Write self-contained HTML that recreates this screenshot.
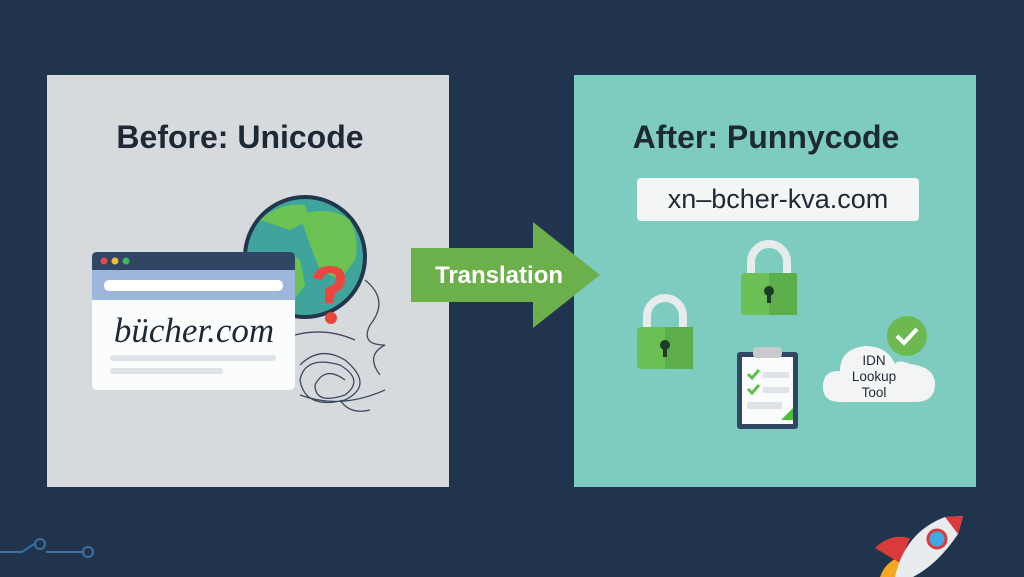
<!DOCTYPE html>
<html><head><style>
body{margin:0;width:1024px;height:577px;background:#21344d;overflow:hidden;position:relative;font-family:"Liberation Sans",sans-serif}
.p{position:absolute}
</style></head><body>
<div class="p" style="left:47px;top:75px;width:402px;height:412px;background:#d7dadc"></div>
<div class="p" style="left:574px;top:75px;width:402px;height:412px;background:#7ecbbf"></div>
<div class="p" style="left:39px;top:119px;width:402px;text-align:center;font-size:32px;font-weight:bold;color:#1d2a36">Before: Unicode</div>
<div class="p" style="left:574px;top:119px;width:384px;text-align:center;font-size:32px;font-weight:bold;color:#1d2a36">After: Punnycode</div>
<div class="p" style="left:637px;top:178px;width:282px;height:43px;background:#f4f6f5;border-radius:4px;text-align:center;line-height:43px;font-size:27px;color:#1d2a36">xn–bcher-kva.com</div>
<svg class="p" style="left:0;top:0" width="1024" height="577">
<circle cx="305" cy="257" r="60" fill="#3fa59c" stroke="#22364d" stroke-width="4"/>
<path d="M260 220 q20-18 45-15 l5 15 -20 10 -15 -5z M300 215 q30-10 50 5 q10 20 5 40 l-15 20 -20-10 -10-25z M270 255 q15-5 30 5 l5 25 -15 20 -15-15z" fill="#6cc253"/>
<path d="M313 278 q3-12 17-12 q15 0 15 13 q0 10-10 14 l-2 10 h-8 l0-15 q12-3 11-10 q0-5-6-5 q-6 0-8 7z" fill="#e8463f"/>
<circle cx="331" cy="318" r="6" fill="#e8463f"/>
<g fill="none" stroke="#3b4a60" stroke-width="1.3">
<path d="M365 280 q25 20 5 45 q-10 20 15 20 q-20 10 -5 30 M295 335 q30-8 60 5 M300 365 q20-20 45-5 q30 25 0 40 q-40 10-45-20 q5-25 40-15 q25 15 5 30 q-30 10-30-10 q10-20 30-5 M300 395 q40 15 85 -5 M340 400 q10 15 30 10"/>
</g>
<rect x="92" y="252" width="203" height="138" rx="5" fill="#fbfcfc"/>
<path d="M92 270 v-13 q0-5 5-5 h193 q5 0 5 5 v13z" fill="#2f4764"/>
<rect x="92" y="270" width="203" height="30" fill="#9eb5dc"/>
<rect x="104" y="280" width="179" height="11" rx="5" fill="#fff"/>
<circle cx="104" cy="261" r="3.5" fill="#e5484d"/><circle cx="115" cy="261" r="3.5" fill="#f0c030"/><circle cx="126" cy="261" r="3.5" fill="#3fb55a"/>
<rect x="110" y="355" width="166" height="6" rx="3" fill="#dfe2e6"/>
<rect x="110" y="368" width="113" height="6" rx="3" fill="#dfe2e6"/>
<text x="194" y="342" text-anchor="middle" font-family="Liberation Serif,serif" font-style="italic" font-size="35" fill="#1d2a36">bücher.com</text>
<path d="M411 248 H533 V222 L600 275 L533 328 V302 H411z" fill="#6cb04c"/>
<text x="499" y="283" text-anchor="middle" font-size="24" font-weight="bold" fill="#fff">Translation</text>
<g id="l1"><path d="M647 328 v-12 a18 18 0 0 1 36 0 v12" fill="none" stroke="#e6eceb" stroke-width="8"/>
<rect x="637" y="327" width="56" height="42" rx="4" fill="#6cbf55"/><rect x="665" y="327" width="28" height="42" fill="#5dae4a"/>
<circle cx="665" cy="345" r="5" fill="#1e3b2a"/><rect x="663" y="345" width="4" height="12" fill="#1e3b2a"/></g>
<use href="#l1" transform="translate(104,-54)"/>
<rect x="737" y="352" width="61" height="77" rx="3" fill="#2f4764"/>
<rect x="742" y="357" width="51" height="67" fill="#fafbfb"/>
<rect x="753" y="347" width="29" height="11" rx="4" fill="#c7cbce"/>
<path d="M748 374 l4 4 7-8 M748 389 l4 4 7-8" fill="none" stroke="#5cbf4a" stroke-width="3"/>
<rect x="763" y="372" width="26" height="6" fill="#dfe2e6"/><rect x="763" y="387" width="26" height="6" fill="#dfe2e6"/>
<rect x="747" y="402" width="35" height="7" fill="#dfe2e6"/>
<path d="M781 420 l12-12 v12z" fill="#4cbf3a"/>
<path d="M840 402 q-18 0-17-17 q1-15 17-14 q0-22 25-25 q22 0 30 18 q3-5 15 0 q25 3 25 20 q0 18-20 18z" fill="#f3f5f5"/>
<circle cx="907" cy="336" r="20" fill="#6cb94f"/>
<path d="M897 336 l7 7 13-14" fill="none" stroke="#fff" stroke-width="4"/>
<text x="874" y="365" text-anchor="middle" font-size="13.5" fill="#1d2a36">IDN</text>
<text x="874" y="381" text-anchor="middle" font-size="13.5" fill="#1d2a36">Lookup</text>
<text x="874" y="397" text-anchor="middle" font-size="13.5" fill="#1d2a36">Tool</text>
<g fill="none" stroke="#3d6fa0" stroke-width="2"><path d="M0 552 h22 l12-8 M46 552 h38"/><circle cx="40" cy="544" r="5"/><circle cx="88" cy="552" r="5"/></g>
<path d="M880 577 q5-15 20-20 l10 20z" fill="#f5a623"/>
<path d="M875 548 q15-15 35-10 l-10 25z" fill="#d93a3a"/>
<path d="M895 577 q10-45 50-60 l18-1 -5 18 q-20 30-45 43z" fill="#e9ecef"/>
<path d="M945 517 l18-1 -5 18z" fill="#d93a3a"/>
<circle cx="937" cy="539" r="9" fill="#3fa8e0" stroke="#d93a3a" stroke-width="3"/>
</svg>
</body></html>
